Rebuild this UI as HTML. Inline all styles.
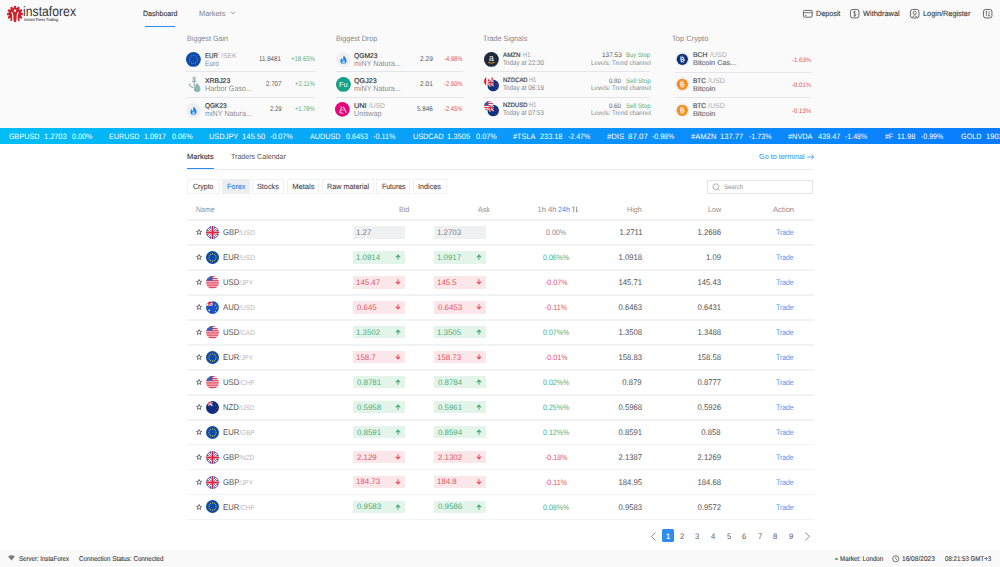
<!DOCTYPE html>
<html><head><meta charset="utf-8"><title>InstaForex Dashboard</title><style>
html,body{margin:0;padding:0;}
body{width:1000px;height:567px;position:relative;overflow:hidden;background:#fff;font-family:"Liberation Sans",sans-serif;}
.t{position:absolute;line-height:12px;white-space:nowrap;text-rendering:geometricPrecision;}
svg{overflow:visible}
</style></head><body>
<div style="position:absolute;left:0px;top:0px;width:1000px;height:128px;background:#fafafa"></div>
<svg style="position:absolute;left:6px;top:4.5px" width="18" height="18" viewBox="-9 -9 18 18">
<g fill="#cc2229"><circle r="6.2"/><rect x="-1.2" y="-7.9" width="2.4" height="3" rx="0.3" transform="rotate(0)"/><rect x="-1.2" y="-7.9" width="2.4" height="3" rx="0.3" transform="rotate(30)"/><rect x="-1.2" y="-7.9" width="2.4" height="3" rx="0.3" transform="rotate(60)"/><rect x="-1.2" y="-7.9" width="2.4" height="3" rx="0.3" transform="rotate(90)"/><rect x="-1.2" y="-7.9" width="2.4" height="3" rx="0.3" transform="rotate(120)"/><rect x="-1.2" y="-7.9" width="2.4" height="3" rx="0.3" transform="rotate(150)"/><rect x="-1.2" y="-7.9" width="2.4" height="3" rx="0.3" transform="rotate(180)"/><rect x="-1.2" y="-7.9" width="2.4" height="3" rx="0.3" transform="rotate(210)"/><rect x="-1.2" y="-7.9" width="2.4" height="3" rx="0.3" transform="rotate(240)"/><rect x="-1.2" y="-7.9" width="2.4" height="3" rx="0.3" transform="rotate(270)"/><rect x="-1.2" y="-7.9" width="2.4" height="3" rx="0.3" transform="rotate(300)"/><rect x="-1.2" y="-7.9" width="2.4" height="3" rx="0.3" transform="rotate(330)"/></g>
<circle cx="0" cy="-3.3" r="1.25" fill="#fafafa"/>
<path d="M-3.6 -1.9 Q-2.2 -0.6 -2.2 1.5 V7.5" stroke="#fafafa" stroke-width="1.15" fill="none"/>
<path d="M3.6 -1.9 Q2.2 -0.6 2.2 1.5 V7.5" stroke="#fafafa" stroke-width="1.15" fill="none"/>
</svg>
<div class="t" style="left:23.01px;transform-origin:0 0;transform:scaleX(0.8864);top:6.00px;font-size:13.8px;color:#333;font-weight:normal;">instaforex</div>
<div class="t" style="left:23.90px;transform-origin:0 0;transform:scaleX(0.7644);top:14.00px;font-size:4.4px;color:#555;font-weight:bold;">Instant Forex Trading</div>
<div class="t" style="left:142.60px;transform-origin:0 0;transform:scaleX(0.9405);top:8.00px;font-size:7.5px;color:#333;font-weight:normal;-webkit-text-stroke:0.12px currentColor;">Dashboard</div>
<div style="position:absolute;left:145px;top:25.6px;width:29.6px;height:1.2px;background:#2d8cf0"></div>
<div class="t" style="left:198.70px;transform-origin:0 0;transform:scaleX(0.9889);top:8.00px;font-size:7.5px;color:#7c7f86;font-weight:normal;">Markets</div>
<svg style="position:absolute;left:229.5px;top:10.5px" width="6" height="4" viewBox="0 0 6 4"><path d="M0.6 0.7 L3 3 L5.4 0.7" stroke="#8a8c92" stroke-width="0.8" fill="none"/></svg>
<svg style="position:absolute;left:802.5px;top:9.5px" width="9.6" height="7.6" viewBox="0 0 9.6 7.6"><rect x="0.45" y="0.45" width="8.7" height="6.7" rx="1" stroke="#555" stroke-width="0.9" fill="none"/><line x1="0.5" y1="2.7" x2="9.1" y2="2.7" stroke="#555" stroke-width="0.8"/><line x1="2" y1="5.4" x2="3.6" y2="5.4" stroke="#555" stroke-width="0.7"/></svg>
<div class="t" style="left:815.50px;transform-origin:0 0;transform:scaleX(0.9462);top:8.00px;font-size:7.6px;color:#3b3b3b;font-weight:normal;-webkit-text-stroke:0.12px currentColor;">Deposit</div>
<svg style="position:absolute;left:849.8px;top:8.8px" width="9.4" height="9.4" viewBox="0 0 9.4 9.4"><rect x="0.45" y="0.45" width="8.5" height="8.5" rx="2.2" stroke="#555" stroke-width="0.9" fill="none"/><path d="M5.9 3.2 Q5.5 2.5 4.7 2.5 Q3.5 2.5 3.5 3.5 Q3.5 4.3 4.7 4.6 Q5.9 4.9 5.9 5.8 Q5.9 6.9 4.7 6.9 Q3.8 6.9 3.4 6.2 M4.7 1.8 V8" stroke="#555" stroke-width="0.7" fill="none"/></svg>
<div class="t" style="left:863.00px;transform-origin:0 0;transform:scaleX(0.9757);top:8.00px;font-size:7.6px;color:#3b3b3b;font-weight:normal;-webkit-text-stroke:0.12px currentColor;">Withdrawal</div>
<svg style="position:absolute;left:909.8px;top:8.8px" width="9.4" height="9.4" viewBox="0 0 9.4 9.4"><rect x="0.45" y="0.45" width="8.5" height="8.5" rx="2.2" stroke="#555" stroke-width="0.9" fill="none"/><circle cx="4.7" cy="3.8" r="1.6" stroke="#555" stroke-width="0.8" fill="none"/><path d="M2 8.6 Q4.7 5 7.4 8.6" stroke="#555" stroke-width="0.8" fill="none"/></svg>
<div class="t" style="left:922.50px;transform-origin:0 0;transform:scaleX(0.9673);top:8.00px;font-size:7.6px;color:#3b3b3b;font-weight:normal;-webkit-text-stroke:0.12px currentColor;">Login/Register</div>
<svg style="position:absolute;left:982.8px;top:8.8px" width="9.4" height="9.4" viewBox="0 0 9.4 9.4"><rect x="0.45" y="0.45" width="8.5" height="8.5" rx="2.2" stroke="#555" stroke-width="0.9" fill="none"/><path d="M3.4 2.2 V7.2 M2.4 3.2 L3.4 2.2 L4.4 3.2 M6 2.2 V7.2 M5 6.2 L6 7.2 L7 6.2" stroke="#555" stroke-width="0.7" fill="none"/></svg>
<div class="t" style="left:187.20px;transform-origin:0 0;transform:scaleX(0.9341);top:33.00px;font-size:7.7px;color:#85878d;font-weight:normal;">Biggest Gain</div>
<div class="t" style="left:335.60px;transform-origin:0 0;transform:scaleX(0.9244);top:33.00px;font-size:7.7px;color:#85878d;font-weight:normal;">Biggest Drop</div>
<div class="t" style="left:483.36px;transform-origin:0 0;transform:scaleX(0.9391);top:33.00px;font-size:7.7px;color:#85878d;font-weight:normal;">Trade Signals</div>
<div class="t" style="left:671.72px;transform-origin:0 0;transform:scaleX(0.9778);top:33.00px;font-size:7.7px;color:#85878d;font-weight:normal;">Top Crypto</div>
<svg style="position:absolute;left:185.2px;top:51.0px" width="16.8" height="16.8" viewBox="-8.4 -8.4 16.8 16.8"><circle r="7.4" fill="#0b4aa8"/><circle cx="4.07" cy="0.00" r="0.48" fill="#e0c43c"/><circle cx="3.52" cy="2.03" r="0.48" fill="#e0c43c"/><circle cx="2.04" cy="3.52" r="0.48" fill="#e0c43c"/><circle cx="0.00" cy="4.07" r="0.48" fill="#e0c43c"/><circle cx="-2.03" cy="3.52" r="0.48" fill="#e0c43c"/><circle cx="-3.52" cy="2.03" r="0.48" fill="#e0c43c"/><circle cx="-4.07" cy="0.00" r="0.48" fill="#e0c43c"/><circle cx="-3.52" cy="-2.03" r="0.48" fill="#e0c43c"/><circle cx="-2.04" cy="-3.52" r="0.48" fill="#e0c43c"/><circle cx="-0.00" cy="-4.07" r="0.48" fill="#e0c43c"/><circle cx="2.04" cy="-3.52" r="0.48" fill="#e0c43c"/><circle cx="3.52" cy="-2.04" r="0.48" fill="#e0c43c"/></svg>
<svg style="position:absolute;left:185.5px;top:76px" width="17" height="17" viewBox="0 0 17 17"><circle cx="8.2" cy="2.3" r="1.2" stroke="#6e8c8a" stroke-width="0.8" fill="none"/><path d="M8.2 3.5 V10.5 M6 5.3 H10.4 M3.4 8.2 Q4.2 11.4 7.4 11.6" stroke="#6e8c8a" stroke-width="0.8" fill="none"/><path d="M3.4 8.2 L2.6 9.2 M3.4 8.2 L4.4 8.8" stroke="#6e8c8a" stroke-width="0.7"/><path d="M11.2 7 C13.2 9.4 14.5 11 14.5 12.9 C14.5 14.8 13 16 11.2 16 C9.3 16 7.9 14.8 7.9 12.9 C7.9 11 9.2 9.4 11.2 7Z" fill="#8db6b0"/></svg>
<svg style="position:absolute;left:185.1px;top:101.6px" width="17.0" height="17.0" viewBox="-8.5 -8.5 17.0 17.0"><circle r="7.5" fill="#efeff1"/><g transform="scale(0.92) translate(0 0.2)"><path d="M0.4 -4.6 C2 -2.4 3.4 -0.9 3.4 1.4 C3.4 3.5 1.8 4.7 0 4.7 C-1.9 4.7 -3.4 3.4 -3.4 1.4 C-3.4 -0.2 -2.5 -1.3 -1.7 -1.9 C-1.7 -0.6 -1.3 0.3 -0.5 0.7 C-0.5 -1.6 -0.3 -3.3 0.4 -4.6 Z" fill="#1a86f0"/><path d="M0.2 0.3 C1.3 1.3 1.8 2.1 1.8 3 C1.8 3.9 1 4.5 0.1 4.5 C-0.9 4.5 -1.6 3.9 -1.6 3 C-1.6 1.9 -0.4 1.5 0.2 0.3Z" fill="#9fd0ff"/></g></svg>
<div class="t" style="left:205.40px;transform-origin:0 0;transform:scaleX(0.8800);top:51.00px;font-size:7.0px;color:#3a3a3c;font-weight:normal;-webkit-text-stroke:0.18px currentColor;">EUR</div>
<div class="t" style="left:220.60px;transform-origin:0 0;transform:scaleX(0.9750);top:51.00px;font-size:7.0px;color:#a8aab0;font-weight:normal;">/SEK</div>
<div class="t" style="left:205.40px;transform-origin:0 0;transform:scaleX(0.8471);top:58.00px;font-size:7.8px;color:#8a8c92;font-weight:normal;">Euro</div>
<div class="t" style="left:259.40px;transform-origin:0 0;transform:scaleX(0.9000);top:54.00px;font-size:6.9px;color:#55575c;font-weight:normal;">11.8481</div>
<div class="t" style="left:291.00px;transform-origin:0 0;transform:scaleX(0.8741);top:54.00px;font-size:6.9px;color:#52b27e;font-weight:normal;">+18.65%</div>
<div class="t" style="left:205.40px;transform-origin:0 0;transform:scaleX(0.9846);top:76.00px;font-size:7.0px;color:#3a3a3c;font-weight:normal;-webkit-text-stroke:0.18px currentColor;">XRBJ23</div>
<div class="t" style="left:205.40px;transform-origin:0 0;transform:scaleX(0.9176);top:83.00px;font-size:7.8px;color:#8a8c92;font-weight:normal;">Harbor Gaso...</div>
<div class="t" style="left:265.80px;transform-origin:0 0;transform:scaleX(0.8941);top:79.00px;font-size:6.9px;color:#55575c;font-weight:normal;">2.707</div>
<div class="t" style="left:294.80px;transform-origin:0 0;transform:scaleX(0.8609);top:79.00px;font-size:6.9px;color:#52b27e;font-weight:normal;">+2.11%</div>
<div class="t" style="left:205.40px;transform-origin:0 0;transform:scaleX(0.9292);top:101.00px;font-size:7.0px;color:#3a3a3c;font-weight:normal;-webkit-text-stroke:0.18px currentColor;">QGK23</div>
<div class="t" style="left:205.40px;transform-origin:0 0;transform:scaleX(0.9196);top:108.00px;font-size:7.8px;color:#8a8c92;font-weight:normal;">miNY Natura...</div>
<div class="t" style="left:269.70px;transform-origin:0 0;transform:scaleX(0.8692);top:104.00px;font-size:6.9px;color:#55575c;font-weight:normal;">2.29</div>
<div class="t" style="left:294.80px;transform-origin:0 0;transform:scaleX(0.8250);top:104.00px;font-size:6.9px;color:#52b27e;font-weight:normal;">+1.78%</div>
<div style="position:absolute;left:186.3px;top:71.2px;width:128.6px;height:0.8px;background:#e4e5e8"></div>
<div style="position:absolute;left:186.3px;top:96.5px;width:128.6px;height:0.8px;background:#e4e5e8"></div>
<svg style="position:absolute;left:334.5px;top:50.9px" width="17.0" height="17.0" viewBox="-8.5 -8.5 17.0 17.0"><circle r="7.5" fill="#efeff1"/><g transform="scale(0.92) translate(0 0.2)"><path d="M0.4 -4.6 C2 -2.4 3.4 -0.9 3.4 1.4 C3.4 3.5 1.8 4.7 0 4.7 C-1.9 4.7 -3.4 3.4 -3.4 1.4 C-3.4 -0.2 -2.5 -1.3 -1.7 -1.9 C-1.7 -0.6 -1.3 0.3 -0.5 0.7 C-0.5 -1.6 -0.3 -3.3 0.4 -4.6 Z" fill="#1a86f0"/><path d="M0.2 0.3 C1.3 1.3 1.8 2.1 1.8 3 C1.8 3.9 1 4.5 0.1 4.5 C-0.9 4.5 -1.6 3.9 -1.6 3 C-1.6 1.9 -0.4 1.5 0.2 0.3Z" fill="#9fd0ff"/></g></svg>
<svg style="position:absolute;left:334.6px;top:76.3px" width="16.8" height="16.8" viewBox="-8.4 -8.4 16.8 16.8"><circle r="7.4" fill="#14a089"/><text x="0" y="2.6" font-size="7.4" font-family="Liberation Sans" text-anchor="middle" fill="#fff">Fu</text></svg>
<svg style="position:absolute;left:334.34999999999997px;top:101.15px" width="16.7" height="16.7" viewBox="-8.35 -8.35 16.7 16.7"><circle r="7.35" fill="#e4037a"/><g fill="none" stroke="#fbd3e8" stroke-linejoin="round" stroke-linecap="round"><path d="M-2.9 -3.9 L-0.8 -1.9" stroke-width="0.6" opacity="0.6"/><path d="M-0.8 -2.1 L-2.7 3.1 L0.6 4.0" stroke-width="1.1" opacity="0.85"/><path d="M1.3 -2.0 L3.7 2.9" stroke-width="1.3" opacity="0.85"/><path d="M-1.2 1.6 L0.4 0.1 L1.0 1.2" stroke-width="0.9" opacity="0.7"/><path d="M-0.8 -2.1 L1.3 -2.0" stroke-width="0.7" opacity="0.6"/></g></svg>
<div class="t" style="left:354.20px;transform-origin:0 0;transform:scaleX(0.9600);top:51.00px;font-size:7.0px;color:#3a3a3c;font-weight:normal;-webkit-text-stroke:0.18px currentColor;">QGM23</div>
<div class="t" style="left:354.20px;transform-origin:0 0;transform:scaleX(0.9176);top:58.00px;font-size:7.8px;color:#8a8c92;font-weight:normal;">miNY Natura...</div>
<div class="t" style="left:420.20px;transform-origin:0 0;transform:scaleX(0.9538);top:54.00px;font-size:6.9px;color:#55575c;font-weight:normal;">2.29</div>
<div class="t" style="left:443.90px;transform-origin:0 0;transform:scaleX(0.8500);top:54.00px;font-size:6.9px;color:#e5535f;font-weight:normal;">-4.98%</div>
<div class="t" style="left:354.20px;transform-origin:0 0;transform:scaleX(1.0227);top:76.00px;font-size:7.0px;color:#3a3a3c;font-weight:normal;-webkit-text-stroke:0.18px currentColor;">QGJ23</div>
<div class="t" style="left:354.20px;transform-origin:0 0;transform:scaleX(0.9176);top:83.00px;font-size:7.8px;color:#8a8c92;font-weight:normal;">miNY Natura...</div>
<div class="t" style="left:420.20px;transform-origin:0 0;transform:scaleX(0.9538);top:79.00px;font-size:6.9px;color:#55575c;font-weight:normal;">2.01</div>
<div class="t" style="left:443.90px;transform-origin:0 0;transform:scaleX(0.8500);top:79.00px;font-size:6.9px;color:#e5535f;font-weight:normal;">-2.90%</div>
<div class="t" style="left:354.20px;transform-origin:0 0;transform:scaleX(1.0500);top:101.00px;font-size:7.0px;color:#3a3a3c;font-weight:normal;-webkit-text-stroke:0.18px currentColor;">UNI</div>
<div class="t" style="left:368.60px;transform-origin:0 0;transform:scaleX(0.9529);top:101.00px;font-size:7.0px;color:#a8aab0;font-weight:normal;">/USD</div>
<div class="t" style="left:354.20px;transform-origin:0 0;transform:scaleX(0.9200);top:108.00px;font-size:7.8px;color:#8a8c92;font-weight:normal;">Uniswap</div>
<div class="t" style="left:417.20px;transform-origin:0 0;transform:scaleX(0.9059);top:104.00px;font-size:6.9px;color:#55575c;font-weight:normal;">5.846</div>
<div class="t" style="left:443.90px;transform-origin:0 0;transform:scaleX(0.8500);top:104.00px;font-size:6.9px;color:#e5535f;font-weight:normal;">-2.45%</div>
<div style="position:absolute;left:335.7px;top:71.2px;width:127px;height:0.8px;background:#e4e5e8"></div>
<div style="position:absolute;left:335.7px;top:96.5px;width:127px;height:0.8px;background:#e4e5e8"></div>
<svg style="position:absolute;left:483.40000000000003px;top:51.0px" width="16.8" height="16.8" viewBox="-8.4 -8.4 16.8 16.8"><circle r="7.4" fill="#1c2a3b"/><text x="0" y="1.9" font-size="8.6" font-family="Liberation Sans" text-anchor="middle" fill="#fff">a</text><path d="M-3.3 2.9 Q0 4.8 3.3 2.9" stroke="#f29a1d" stroke-width="0.9" fill="none"/></svg>
<svg style="position:absolute;left:483.1px;top:76.1px" width="17" height="17" viewBox="-8.5 -8.5 17 17"><clipPath id="nzcaa"><circle cx="-2.6" cy="-3.3" r="4.9"/></clipPath><clipPath id="nzcab"><circle cx="1.7" cy="1.1" r="5.75"/></clipPath><g clip-path="url(#nzcaa)"><g transform="translate(-2.6 -3.3)"><rect x="-6" y="-6" width="12" height="12" fill="#fff"/><rect x="-6" y="-6" width="3.4" height="12" fill="#d8262e"/><rect x="2.6" y="-6" width="3.4" height="12" fill="#d8262e"/><path d="M0 -2.6 L1.4 0.4 L0 1.8 L-1.4 0.4Z" fill="#d8262e"/></g></g><circle cx="1.7" cy="1.1" r="6.2" fill="#fafafa"/><g clip-path="url(#nzcab)"><g transform="translate(1.7 1.1)"><rect x="-7" y="-7" width="14" height="14" fill="#0e3282"/><path d="M-6.5 -6.5 L0.5 0.5 M0.5 -6.5 L-6.5 0.5" stroke="#fff" stroke-width="1.3"/><path d="M-6.5 -6.5 L0.5 0.5 M0.5 -6.5 L-6.5 0.5" stroke="#d21f34" stroke-width="0.5"/><path d="M-3 -7 V0.8 M-7 -3 H0.8" stroke="#fff" stroke-width="2.0"/><path d="M-3 -7 V0.8 M-7 -3 H0.8" stroke="#d21f34" stroke-width="1.1"/><circle cx="3.2" cy="-1.0" r="0.6" fill="#d21f34"/><circle cx="4.3" cy="1.6" r="0.5" fill="#d21f34"/><circle cx="2.5" cy="3.8" r="0.6" fill="#d21f34"/></g></g></svg>
<svg style="position:absolute;left:483.1px;top:101.4px" width="17" height="17" viewBox="-8.5 -8.5 17 17"><clipPath id="nzusa"><circle cx="-2.6" cy="-3.3" r="4.9"/></clipPath><clipPath id="nzusb"><circle cx="1.7" cy="1.1" r="5.75"/></clipPath><g clip-path="url(#nzusa)"><g transform="translate(-2.6 -3.3)"><rect x="-6" y="-6" width="12" height="12" fill="#fff"/><rect x="-6" y="-5.0" width="12" height="1.0" fill="#d8263b"/><rect x="-6" y="-3.1" width="12" height="1.0" fill="#d8263b"/><rect x="-6" y="-1.2" width="12" height="1.0" fill="#d8263b"/><rect x="-6" y="0.7" width="12" height="1.0" fill="#d8263b"/><rect x="-6" y="2.6" width="12" height="1.0" fill="#d8263b"/><rect x="-6" y="4.5" width="12" height="1.0" fill="#d8263b"/><rect x="-6" y="-6" width="5.5" height="5.2" fill="#3a5aa8"/></g></g><circle cx="1.7" cy="1.1" r="6.2" fill="#fafafa"/><g clip-path="url(#nzusb)"><g transform="translate(1.7 1.1)"><rect x="-7" y="-7" width="14" height="14" fill="#0e3282"/><path d="M-6.5 -6.5 L0.5 0.5 M0.5 -6.5 L-6.5 0.5" stroke="#fff" stroke-width="1.3"/><path d="M-6.5 -6.5 L0.5 0.5 M0.5 -6.5 L-6.5 0.5" stroke="#d21f34" stroke-width="0.5"/><path d="M-3 -7 V0.8 M-7 -3 H0.8" stroke="#fff" stroke-width="2.0"/><path d="M-3 -7 V0.8 M-7 -3 H0.8" stroke="#d21f34" stroke-width="1.1"/><circle cx="3.2" cy="-1.0" r="0.6" fill="#d21f34"/><circle cx="4.3" cy="1.6" r="0.5" fill="#d21f34"/><circle cx="2.5" cy="3.8" r="0.6" fill="#d21f34"/></g></g></svg>
<div class="t" style="left:503.10px;transform-origin:0 0;transform:scaleX(0.9833);top:50.00px;font-size:6.3px;color:#3a3a3c;font-weight:normal;-webkit-text-stroke:0.18px currentColor;">AMZN</div>
<div class="t" style="left:522.60px;transform-origin:0 0;transform:scaleX(0.8444);top:50.00px;font-size:6.8px;color:#9a9ca2;font-weight:normal;">H1</div>
<div class="t" style="left:503.10px;transform-origin:0 0;transform:scaleX(0.9044);top:58.00px;font-size:6.9px;color:#85878c;font-weight:normal;">Today at 22:30</div>
<div class="t" style="left:601.50px;transform-origin:0 0;transform:scaleX(0.9800);top:50.00px;font-size:6.6px;color:#55575c;font-weight:normal;">137.53</div>
<div class="t" style="left:626.00px;transform-origin:0 0;transform:scaleX(0.9000);top:50.00px;font-size:6.6px;color:#52b27e;font-weight:normal;">Buy Stop</div>
<div class="t" style="left:590.80px;transform-origin:0 0;transform:scaleX(0.9154);top:58.00px;font-size:6.7px;color:#85878c;font-weight:normal;">Levels: Trend channel</div>
<div class="t" style="left:503.10px;transform-origin:0 0;transform:scaleX(0.9385);top:75.00px;font-size:6.3px;color:#3a3a3c;font-weight:normal;-webkit-text-stroke:0.18px currentColor;">NZDCAD</div>
<div class="t" style="left:529.10px;transform-origin:0 0;transform:scaleX(0.8333);top:75.00px;font-size:6.8px;color:#9a9ca2;font-weight:normal;">H1</div>
<div class="t" style="left:503.10px;transform-origin:0 0;transform:scaleX(0.9044);top:83.00px;font-size:6.9px;color:#85878c;font-weight:normal;">Today at 06:19</div>
<div class="t" style="left:609.00px;transform-origin:0 0;transform:scaleX(0.9308);top:76.00px;font-size:6.6px;color:#55575c;font-weight:normal;">0.80</div>
<div class="t" style="left:626.00px;transform-origin:0 0;transform:scaleX(0.9346);top:76.00px;font-size:6.6px;color:#52b27e;font-weight:normal;">Sell Stop</div>
<div class="t" style="left:590.80px;transform-origin:0 0;transform:scaleX(0.9154);top:83.00px;font-size:6.7px;color:#85878c;font-weight:normal;">Levels: Trend channel</div>
<div class="t" style="left:503.10px;transform-origin:0 0;transform:scaleX(0.9308);top:100.00px;font-size:6.3px;color:#3a3a3c;font-weight:normal;-webkit-text-stroke:0.18px currentColor;">NZDUSD</div>
<div class="t" style="left:529.10px;transform-origin:0 0;transform:scaleX(0.8333);top:100.00px;font-size:6.8px;color:#9a9ca2;font-weight:normal;">H1</div>
<div class="t" style="left:503.10px;transform-origin:0 0;transform:scaleX(0.9044);top:108.00px;font-size:6.9px;color:#85878c;font-weight:normal;">Today at 07:53</div>
<div class="t" style="left:609.00px;transform-origin:0 0;transform:scaleX(0.9308);top:101.00px;font-size:6.6px;color:#55575c;font-weight:normal;">0.60</div>
<div class="t" style="left:626.00px;transform-origin:0 0;transform:scaleX(0.9346);top:101.00px;font-size:6.6px;color:#52b27e;font-weight:normal;">Sell Stop</div>
<div class="t" style="left:590.80px;transform-origin:0 0;transform:scaleX(0.9154);top:108.00px;font-size:6.7px;color:#85878c;font-weight:normal;">Levels: Trend channel</div>
<div style="position:absolute;left:484.3px;top:71.2px;width:166px;height:0.8px;background:#e4e5e8"></div>
<div style="position:absolute;left:484.3px;top:96.5px;width:166px;height:0.8px;background:#e4e5e8"></div>
<svg style="position:absolute;left:673.6px;top:50.599999999999994px" width="16.6" height="16.6" viewBox="-8.3 -8.3 16.6 16.6"><circle r="7.3" fill="#eceef2"/><circle r="5.6" fill="#0b2f78"/><text x="0.1" y="2.3" font-size="6.4" font-family="Liberation Sans" font-weight="bold" text-anchor="middle" fill="#fff" transform="rotate(-10)">B</text><path d="M-0.9 -3.6 V-2.4 M0.9 -3.6 V-2.4 M-0.9 2.4 V3.6 M0.9 2.4 V3.6" stroke="#fff" stroke-width="0.6" transform="rotate(-10)"/></svg>
<div class="t" style="left:693.10px;transform-origin:0 0;transform:scaleX(0.9929);top:50.00px;font-size:6.9px;color:#48494d;font-weight:normal;-webkit-text-stroke:0.18px currentColor;">BCH</div>
<div class="t" style="left:709.80px;transform-origin:0 0;transform:scaleX(1.0188);top:50.00px;font-size:6.9px;color:#a8aab0;font-weight:normal;">/USD</div>
<div class="t" style="left:693.10px;transform-origin:0 0;transform:scaleX(1.0700);top:58.00px;font-size:6.9px;color:#76787e;font-weight:normal;-webkit-text-stroke:0.18px currentColor;">Bitcoin Cas...</div>
<div class="t" style="left:792.00px;transform-origin:0 0;transform:scaleX(0.9500);top:55.00px;font-size:6.4px;color:#e5535f;font-weight:normal;">-1.69%</div>
<svg style="position:absolute;left:673.6px;top:76.2px" width="16.6" height="16.6" viewBox="-8.3 -8.3 16.6 16.6"><circle r="7.3" fill="#eceef2"/><circle r="5.6" fill="#f5901e"/><text x="0.1" y="2.3" font-size="6.4" font-family="Liberation Sans" font-weight="bold" text-anchor="middle" fill="#fff" transform="rotate(-10)">B</text><path d="M-0.9 -3.6 V-2.4 M0.9 -3.6 V-2.4 M-0.9 2.4 V3.6 M0.9 2.4 V3.6" stroke="#fff" stroke-width="0.6" transform="rotate(-10)"/></svg>
<div class="t" style="left:693.10px;transform-origin:0 0;transform:scaleX(0.9429);top:76.00px;font-size:6.9px;color:#48494d;font-weight:normal;-webkit-text-stroke:0.18px currentColor;">BTC</div>
<div class="t" style="left:708.30px;transform-origin:0 0;transform:scaleX(1.0312);top:76.00px;font-size:6.9px;color:#a8aab0;font-weight:normal;">/USD</div>
<div class="t" style="left:693.10px;transform-origin:0 0;transform:scaleX(1.0857);top:84.00px;font-size:6.9px;color:#76787e;font-weight:normal;-webkit-text-stroke:0.18px currentColor;">Bitcoin</div>
<div class="t" style="left:792.00px;transform-origin:0 0;transform:scaleX(0.9500);top:80.00px;font-size:6.4px;color:#e5535f;font-weight:normal;">-0.01%</div>
<svg style="position:absolute;left:673.6px;top:101.8px" width="16.6" height="16.6" viewBox="-8.3 -8.3 16.6 16.6"><circle r="7.3" fill="#eceef2"/><circle r="5.6" fill="#f5901e"/><text x="0.1" y="2.3" font-size="6.4" font-family="Liberation Sans" font-weight="bold" text-anchor="middle" fill="#fff" transform="rotate(-10)">B</text><path d="M-0.9 -3.6 V-2.4 M0.9 -3.6 V-2.4 M-0.9 2.4 V3.6 M0.9 2.4 V3.6" stroke="#fff" stroke-width="0.6" transform="rotate(-10)"/></svg>
<div class="t" style="left:693.10px;transform-origin:0 0;transform:scaleX(0.9429);top:101.00px;font-size:6.9px;color:#48494d;font-weight:normal;-webkit-text-stroke:0.18px currentColor;">BTC</div>
<div class="t" style="left:708.30px;transform-origin:0 0;transform:scaleX(1.0312);top:101.00px;font-size:6.9px;color:#a8aab0;font-weight:normal;">/USD</div>
<div class="t" style="left:693.10px;transform-origin:0 0;transform:scaleX(1.0857);top:109.00px;font-size:6.9px;color:#76787e;font-weight:normal;-webkit-text-stroke:0.18px currentColor;">Bitcoin</div>
<div class="t" style="left:792.00px;transform-origin:0 0;transform:scaleX(0.9500);top:106.00px;font-size:6.4px;color:#e5535f;font-weight:normal;">-0.13%</div>
<div style="position:absolute;left:675px;top:72.1px;width:136px;height:0.8px;background:#e4e5e8"></div>
<div style="position:absolute;left:675px;top:97.0px;width:136px;height:0.8px;background:#e4e5e8"></div>
<div style="position:absolute;left:0px;top:128px;width:1000px;height:15.6px;background:linear-gradient(90deg,#00bef5 0%,#07a9f7 30%,#0b92fa 60%,#0a7cfd 100%)"></div>
<div class="t" style="left:8.75px;transform-origin:0 0;transform:scaleX(0.9242);top:131.00px;font-size:7.8px;color:#fff;font-weight:normal;">GBPUSD</div>
<div class="t" style="left:43.55px;transform-origin:0 0;transform:scaleX(0.9457);top:131.00px;font-size:7.8px;color:#fff;font-weight:normal;">1.2703</div>
<div class="t" style="left:71.75px;transform-origin:0 0;transform:scaleX(0.9205);top:131.00px;font-size:7.8px;color:#fff;font-weight:normal;">0.00%</div>
<div class="t" style="left:108.75px;transform-origin:0 0;transform:scaleX(0.9242);top:131.00px;font-size:7.8px;color:#fff;font-weight:normal;">EURUSD</div>
<div class="t" style="left:144.08px;transform-origin:0 0;transform:scaleX(0.9239);top:131.00px;font-size:7.8px;color:#fff;font-weight:normal;">1.0917</div>
<div class="t" style="left:172.00px;transform-origin:0 0;transform:scaleX(0.9318);top:131.00px;font-size:7.8px;color:#fff;font-weight:normal;">0.06%</div>
<div class="t" style="left:209.25px;transform-origin:0 0;transform:scaleX(0.9517);top:131.00px;font-size:7.8px;color:#fff;font-weight:normal;">USDJPY</div>
<div class="t" style="left:241.73px;transform-origin:0 0;transform:scaleX(0.9696);top:131.00px;font-size:7.8px;color:#fff;font-weight:normal;">145.50</div>
<div class="t" style="left:270.00px;transform-origin:0 0;transform:scaleX(0.9200);top:131.00px;font-size:7.8px;color:#fff;font-weight:normal;">-0.07%</div>
<div class="t" style="left:310.00px;transform-origin:0 0;transform:scaleX(0.9242);top:131.00px;font-size:7.8px;color:#fff;font-weight:normal;">AUDUSD</div>
<div class="t" style="left:345.75px;transform-origin:0 0;transform:scaleX(0.9271);top:131.00px;font-size:7.8px;color:#fff;font-weight:normal;">0.6453</div>
<div class="t" style="left:373.25px;transform-origin:0 0;transform:scaleX(0.9271);top:131.00px;font-size:7.8px;color:#fff;font-weight:normal;">-0.11%</div>
<div class="t" style="left:412.50px;transform-origin:0 0;transform:scaleX(0.9318);top:131.00px;font-size:7.8px;color:#fff;font-weight:normal;">USDCAD</div>
<div class="t" style="left:447.28px;transform-origin:0 0;transform:scaleX(0.9674);top:131.00px;font-size:7.8px;color:#fff;font-weight:normal;">1.3505</div>
<div class="t" style="left:475.50px;transform-origin:0 0;transform:scaleX(0.9432);top:131.00px;font-size:7.8px;color:#fff;font-weight:normal;">0.07%</div>
<div class="t" style="left:512.50px;transform-origin:0 0;transform:scaleX(0.9375);top:131.00px;font-size:7.8px;color:#fff;font-weight:normal;">#TSLA</div>
<div class="t" style="left:540.00px;transform-origin:0 0;transform:scaleX(0.9375);top:131.00px;font-size:7.8px;color:#fff;font-weight:normal;">233.18</div>
<div class="t" style="left:567.50px;transform-origin:0 0;transform:scaleX(0.9000);top:131.00px;font-size:7.8px;color:#fff;font-weight:normal;">-2.47%</div>
<div class="t" style="left:607.00px;transform-origin:0 0;transform:scaleX(0.9853);top:131.00px;font-size:7.8px;color:#fff;font-weight:normal;">#DIS</div>
<div class="t" style="left:628.25px;transform-origin:0 0;transform:scaleX(1.0132);top:131.00px;font-size:7.8px;color:#fff;font-weight:normal;">87.07</div>
<div class="t" style="left:651.75px;transform-origin:0 0;transform:scaleX(0.9000);top:131.00px;font-size:7.8px;color:#fff;font-weight:normal;">-0.98%</div>
<div class="t" style="left:691.25px;transform-origin:0 0;transform:scaleX(0.9615);top:131.00px;font-size:7.8px;color:#fff;font-weight:normal;">#AMZN</div>
<div class="t" style="left:720.28px;transform-origin:0 0;transform:scaleX(0.9674);top:131.00px;font-size:7.8px;color:#fff;font-weight:normal;">137.77</div>
<div class="t" style="left:748.50px;transform-origin:0 0;transform:scaleX(0.9100);top:131.00px;font-size:7.8px;color:#fff;font-weight:normal;">-1.73%</div>
<div class="t" style="left:788.00px;transform-origin:0 0;transform:scaleX(0.9423);top:131.00px;font-size:7.8px;color:#fff;font-weight:normal;">#NVDA</div>
<div class="t" style="left:817.50px;transform-origin:0 0;transform:scaleX(0.9375);top:131.00px;font-size:7.8px;color:#fff;font-weight:normal;">439.47</div>
<div class="t" style="left:845.00px;transform-origin:0 0;transform:scaleX(0.9000);top:131.00px;font-size:7.8px;color:#fff;font-weight:normal;">-1.48%</div>
<div class="t" style="left:884.50px;transform-origin:0 0;transform:scaleX(0.8889);top:131.00px;font-size:7.8px;color:#fff;font-weight:normal;">#F</div>
<div class="t" style="left:897.28px;transform-origin:0 0;transform:scaleX(0.9722);top:131.00px;font-size:7.8px;color:#fff;font-weight:normal;">11.98</div>
<div class="t" style="left:921.25px;transform-origin:0 0;transform:scaleX(0.9000);top:131.00px;font-size:7.8px;color:#fff;font-weight:normal;">-0.99%</div>
<div class="t" style="left:960.75px;transform-origin:0 0;transform:scaleX(0.9318);top:131.00px;font-size:7.8px;color:#fff;font-weight:normal;">GOLD</div>
<div class="t" style="left:986.03px;transform-origin:0 0;transform:scaleX(0.9722);top:131.00px;font-size:7.8px;color:#fff;font-weight:normal;">1903.60</div>
<div class="t" style="left:187.40px;transform-origin:0 0;transform:scaleX(1.0154);top:151.00px;font-size:7.4px;color:#333;font-weight:normal;-webkit-text-stroke:0.12px currentColor;">Markets</div>
<div class="t" style="left:231.00px;transform-origin:0 0;transform:scaleX(0.9579);top:151.00px;font-size:7.4px;color:#555;font-weight:normal;">Traders Calendar</div>
<div style="position:absolute;left:187.4px;top:169.2px;width:627px;height:0.9px;background:#eaecef"></div>
<div style="position:absolute;left:187.4px;top:168.1px;width:26.6px;height:1.4px;background:#2d8cf0"></div>
<div class="t" style="left:758.80px;transform-origin:0 0;transform:scaleX(0.9826);top:151.00px;font-size:7.4px;color:#2d8cf0;font-weight:normal;">Go to terminal</div>
<svg style="position:absolute;left:807.2px;top:153.8px" width="8" height="6" viewBox="0 0 8 6"><path d="M0.3 3 H6.8 M4.4 0.7 L6.8 3 L4.4 5.3" stroke="#2d8cf0" stroke-width="0.8" fill="none"/></svg>
<div style="position:absolute;left:187.4px;top:179.2px;width:32.400000000000006px;height:15px;background:#fff;border:0.8px solid #f0f1f3;box-sizing:border-box"></div>
<div class="t" style="left:193.20px;transform-origin:0 0;transform:scaleX(0.9130);top:181.00px;font-size:7.6px;color:#4c4d52;font-weight:normal;-webkit-text-stroke:0.12px currentColor;">Crypto</div>
<div style="position:absolute;left:221.8px;top:179.2px;width:28.19999999999999px;height:15px;background:#eceef2"></div>
<div class="t" style="left:226.80px;transform-origin:0 0;transform:scaleX(0.9474);top:181.00px;font-size:7.6px;color:#2f86ea;font-weight:normal;-webkit-text-stroke:0.12px currentColor;">Forex</div>
<div style="position:absolute;left:252px;top:179.2px;width:32.19999999999999px;height:15px;background:#fff;border:0.8px solid #f0f1f3;box-sizing:border-box"></div>
<div class="t" style="left:257.40px;transform-origin:0 0;transform:scaleX(0.9565);top:181.00px;font-size:7.6px;color:#4c4d52;font-weight:normal;-webkit-text-stroke:0.12px currentColor;">Stocks</div>
<div style="position:absolute;left:286.7px;top:179.2px;width:32.5px;height:15px;background:#fff;border:0.8px solid #f0f1f3;box-sizing:border-box"></div>
<div class="t" style="left:292.20px;transform-origin:0 0;transform:scaleX(1.0000);top:181.00px;font-size:7.6px;color:#4c4d52;font-weight:normal;-webkit-text-stroke:0.12px currentColor;">Metals</div>
<div style="position:absolute;left:321.8px;top:179.2px;width:52.19999999999999px;height:15px;background:#fff;border:0.8px solid #f0f1f3;box-sizing:border-box"></div>
<div class="t" style="left:326.80px;transform-origin:0 0;transform:scaleX(0.9523);top:181.00px;font-size:7.6px;color:#4c4d52;font-weight:normal;-webkit-text-stroke:0.12px currentColor;">Raw material</div>
<div style="position:absolute;left:376.3px;top:179.2px;width:34.19999999999999px;height:15px;background:#fff;border:0.8px solid #f0f1f3;box-sizing:border-box"></div>
<div class="t" style="left:381.70px;transform-origin:0 0;transform:scaleX(0.9154);top:181.00px;font-size:7.6px;color:#4c4d52;font-weight:normal;-webkit-text-stroke:0.12px currentColor;">Futures</div>
<div style="position:absolute;left:413.2px;top:179.2px;width:33.80000000000001px;height:15px;background:#fff;border:0.8px solid #f0f1f3;box-sizing:border-box"></div>
<div class="t" style="left:418.20px;transform-origin:0 0;transform:scaleX(0.9500);top:181.00px;font-size:7.6px;color:#4c4d52;font-weight:normal;-webkit-text-stroke:0.12px currentColor;">Indices</div>
<div style="position:absolute;left:707.2px;top:179.5px;width:105.7px;height:14.9px;background:#fff;border:0.8px solid #e3e4e7;box-sizing:border-box"></div>
<svg style="position:absolute;left:712.4px;top:183.4px" width="8.5" height="8.5" viewBox="0 0 8.5 8.5"><circle cx="3.8" cy="3.8" r="3" stroke="#9c9ea3" stroke-width="0.75" fill="none"/><line x1="6" y1="6" x2="7.6" y2="7.6" stroke="#9c9ea3" stroke-width="0.8"/></svg>
<div class="t" style="left:724.00px;transform-origin:0 0;transform:scaleX(0.9143);top:182.00px;font-size:6.6px;color:#8d8f95;font-weight:normal;">Search</div>
<div class="t" style="left:196.00px;transform-origin:0 0;transform:scaleX(0.9048);top:204.00px;font-size:7.7px;color:#8c8e94;font-weight:normal;">Name</div>
<div class="t" style="left:398.90px;transform-origin:0 0;transform:scaleX(0.9273);top:204.00px;font-size:7.7px;color:#8c8e94;font-weight:normal;">Bid</div>
<div class="t" style="left:477.90px;transform-origin:0 0;transform:scaleX(0.9308);top:204.00px;font-size:7.7px;color:#8c8e94;font-weight:normal;">Ask</div>
<div class="t" style="left:537.40px;transform-origin:0 0;transform:scaleX(1.0000);top:204.00px;font-size:7.7px;color:#8c8e94;font-weight:normal;">1h 4h</div>
<div class="t" style="left:558.00px;transform-origin:0 0;transform:scaleX(0.9231);top:204.00px;font-size:7.7px;color:#2d8cf0;font-weight:normal;">24h</div>
<svg style="position:absolute;left:571.6px;top:206.2px" width="6.5" height="7" viewBox="0 0 6.5 7"><path d="M1.7 6.2 V0.7 L0.3 2.1 M4.6 0.6 V6.1 L6 4.7" stroke="#7d7f85" stroke-width="0.8" fill="none"/></svg>
<div class="t" style="left:626.90px;transform-origin:0 0;transform:scaleX(0.9375);top:204.00px;font-size:7.7px;color:#8c8e94;font-weight:normal;">High</div>
<div class="t" style="left:707.70px;transform-origin:0 0;transform:scaleX(0.9357);top:204.00px;font-size:7.7px;color:#8c8e94;font-weight:normal;">Low</div>
<div class="t" style="left:773.30px;transform-origin:0 0;transform:scaleX(0.9857);top:204.00px;font-size:7.7px;color:#8c8e94;font-weight:normal;">Action</div>
<div style="position:absolute;left:187.4px;top:219.2px;width:627px;height:1.7px;background:#f2f3f5"></div>
<svg style="position:absolute;left:195.8px;top:229.40px" width="6.2" height="6.2" viewBox="0 0 6.2 6.2"><path d="M3.1 0.5 L3.85 2.25 L5.7 2.4 L4.3 3.6 L4.75 5.45 L3.1 4.45 L1.45 5.45 L1.9 3.6 L0.5 2.4 L2.35 2.25 Z" stroke="#45464a" stroke-width="0.75" fill="none" stroke-linejoin="round"/></svg>
<svg style="position:absolute;left:206.0px;top:226.0px" width="13.0" height="13.0" viewBox="-6.5 -6.5 13.0 13.0"><clipPath id="fl0"><circle r="6.5"/></clipPath><g clip-path="url(#fl0)"><rect x="-8" y="-8" width="16" height="16" fill="#2a5cc0"/><path d="M-8 -8 L8 8 M8 -8 L-8 8" stroke="#fff" stroke-width="2.4"/><path d="M-8 -8 L8 8 M8 -8 L-8 8" stroke="#d51f3a" stroke-width="0.8"/><path d="M0 -8 V8 M-8 0 H8" stroke="#fff" stroke-width="3.2"/><path d="M0 -8 V8 M-8 0 H8" stroke="#e0203c" stroke-width="1.9"/></g></svg>
<div class="t" style="left:223.00px;transform-origin:0 0;transform:scaleX(0.9200);top:226.00px;font-size:8.4px;color:#505155;font-weight:normal;">GBP<span style="font-size:7.1px;color:#b5b7bc">/USD</span></div>
<div style="position:absolute;left:352.9px;top:226.1px;width:51.8px;height:12.6px;background:#eff0f2"></div>
<div class="t" style="left:355.71px;transform-origin:0 0;transform:scaleX(0.9857);top:227.00px;font-size:8.0px;color:#7d7f85;font-weight:normal;">1.27</div>
<div style="position:absolute;left:433.9px;top:226.1px;width:51.8px;height:12.6px;background:#eff0f2"></div>
<div class="t" style="left:436.71px;transform-origin:0 0;transform:scaleX(0.9857);top:227.00px;font-size:8.0px;color:#7d7f85;font-weight:normal;">1.2703</div>
<div class="t" style="left:546.00px;transform-origin:0 0;transform:scaleX(0.9091);top:227.00px;font-size:7.8px;color:#8a8c92;font-weight:normal;">0.00%</div>
<div class="t" style="right:357.59px;transform-origin:100% 0;transform:scaleX(0.9391);top:227.00px;font-size:8.2px;color:#505257;font-weight:normal;">1.2711</div>
<div class="t" style="right:278.56px;transform-origin:100% 0;transform:scaleX(0.9391);top:227.00px;font-size:8.2px;color:#505257;font-weight:normal;">1.2686</div>
<div class="t" style="left:776.00px;transform-origin:0 0;transform:scaleX(0.8571);top:227.00px;font-size:8.0px;color:#4896f2;font-weight:normal;">Trade</div>
<div style="position:absolute;left:187.4px;top:244.2px;width:627px;height:1.7px;background:#f2f3f5"></div>
<svg style="position:absolute;left:195.8px;top:254.35px" width="6.2" height="6.2" viewBox="0 0 6.2 6.2"><path d="M3.1 0.5 L3.85 2.25 L5.7 2.4 L4.3 3.6 L4.75 5.45 L3.1 4.45 L1.45 5.45 L1.9 3.6 L0.5 2.4 L2.35 2.25 Z" stroke="#45464a" stroke-width="0.75" fill="none" stroke-linejoin="round"/></svg>
<svg style="position:absolute;left:206.0px;top:250.95px" width="13.0" height="13.0" viewBox="-6.5 -6.5 13.0 13.0"><clipPath id="fl1"><circle r="6.5"/></clipPath><g clip-path="url(#fl1)"><rect x="-8" y="-8" width="16" height="16" fill="#0b4aa8"/><circle cx="3.64" cy="0.00" r="0.55" fill="#e0c43c"/><circle cx="3.15" cy="1.82" r="0.55" fill="#e0c43c"/><circle cx="1.82" cy="3.15" r="0.55" fill="#e0c43c"/><circle cx="0.00" cy="3.64" r="0.55" fill="#e0c43c"/><circle cx="-1.82" cy="3.15" r="0.55" fill="#e0c43c"/><circle cx="-3.15" cy="1.82" r="0.55" fill="#e0c43c"/><circle cx="-3.64" cy="0.00" r="0.55" fill="#e0c43c"/><circle cx="-3.15" cy="-1.82" r="0.55" fill="#e0c43c"/><circle cx="-1.82" cy="-3.15" r="0.55" fill="#e0c43c"/><circle cx="-0.00" cy="-3.64" r="0.55" fill="#e0c43c"/><circle cx="1.82" cy="-3.15" r="0.55" fill="#e0c43c"/><circle cx="3.15" cy="-1.82" r="0.55" fill="#e0c43c"/></g></svg>
<div class="t" style="left:223.00px;transform-origin:0 0;transform:scaleX(0.9200);top:251.00px;font-size:8.4px;color:#505155;font-weight:normal;">EUR<span style="font-size:7.1px;color:#b5b7bc">/USD</span></div>
<div style="position:absolute;left:352.9px;top:251.04999999999998px;width:51.8px;height:12.6px;background:#e3f4ea"></div>
<div class="t" style="left:355.71px;transform-origin:0 0;transform:scaleX(0.9857);top:252.00px;font-size:8.0px;color:#4fae78;font-weight:normal;">1.0914</div>
<svg style="position:absolute;left:395.00px;top:254.45px" width="6" height="6" viewBox="0 0 6 6"><path d="M3 5.7 V1.2 M0.8 3.3 L3 1.1 L5.2 3.3" stroke="#4fae78" stroke-width="1.05" fill="none"/></svg>
<div style="position:absolute;left:433.9px;top:251.04999999999998px;width:51.8px;height:12.6px;background:#e3f4ea"></div>
<div class="t" style="left:436.71px;transform-origin:0 0;transform:scaleX(0.9857);top:252.00px;font-size:8.0px;color:#4fae78;font-weight:normal;">1.0917</div>
<svg style="position:absolute;left:476.00px;top:254.45px" width="6" height="6" viewBox="0 0 6 6"><path d="M3 5.7 V1.2 M0.8 3.3 L3 1.1 L5.2 3.3" stroke="#4fae78" stroke-width="1.05" fill="none"/></svg>
<div class="t" style="left:542.82px;transform-origin:0 0;transform:scaleX(0.9091);top:252.00px;font-size:7.8px;color:#4fae78;font-weight:normal;">0.06%%</div>
<div class="t" style="right:357.96px;transform-origin:100% 0;transform:scaleX(0.9391);top:252.00px;font-size:8.2px;color:#505257;font-weight:normal;">1.0918</div>
<div class="t" style="right:278.66px;transform-origin:100% 0;transform:scaleX(0.9391);top:252.00px;font-size:8.2px;color:#505257;font-weight:normal;">1.09</div>
<div class="t" style="left:776.00px;transform-origin:0 0;transform:scaleX(0.8571);top:252.00px;font-size:8.0px;color:#4896f2;font-weight:normal;">Trade</div>
<div style="position:absolute;left:187.4px;top:269.15px;width:627px;height:1.7px;background:#f2f3f5"></div>
<svg style="position:absolute;left:195.8px;top:279.30px" width="6.2" height="6.2" viewBox="0 0 6.2 6.2"><path d="M3.1 0.5 L3.85 2.25 L5.7 2.4 L4.3 3.6 L4.75 5.45 L3.1 4.45 L1.45 5.45 L1.9 3.6 L0.5 2.4 L2.35 2.25 Z" stroke="#45464a" stroke-width="0.75" fill="none" stroke-linejoin="round"/></svg>
<svg style="position:absolute;left:206.0px;top:275.9px" width="13.0" height="13.0" viewBox="-6.5 -6.5 13.0 13.0"><clipPath id="fl2"><circle r="6.5"/></clipPath><g clip-path="url(#fl2)"><rect x="-8" y="-8" width="16" height="16" fill="#fff"/><rect x="-8" y="-6.60" width="16" height="1.2" fill="#dc2540"/><rect x="-8" y="-4.45" width="16" height="1.2" fill="#dc2540"/><rect x="-8" y="-2.30" width="16" height="1.2" fill="#dc2540"/><rect x="-8" y="-0.15" width="16" height="1.2" fill="#dc2540"/><rect x="-8" y="2.00" width="16" height="1.2" fill="#dc2540"/><rect x="-8" y="4.15" width="16" height="1.2" fill="#dc2540"/><rect x="-8" y="6.30" width="16" height="1.2" fill="#dc2540"/><rect x="-8" y="-8" width="8" height="6.2" fill="#3c5fb4"/></g></svg>
<div class="t" style="left:223.00px;transform-origin:0 0;transform:scaleX(0.9200);top:276.00px;font-size:8.4px;color:#505155;font-weight:normal;">USD<span style="font-size:7.1px;color:#b5b7bc">/JPY</span></div>
<div style="position:absolute;left:352.9px;top:276.0px;width:51.8px;height:12.6px;background:#fbe7e9"></div>
<div class="t" style="left:355.71px;transform-origin:0 0;transform:scaleX(0.9857);top:277.00px;font-size:8.0px;color:#e5535f;font-weight:normal;">145.47</div>
<svg style="position:absolute;left:395.00px;top:279.40px" width="6" height="6" viewBox="0 0 6 6"><path d="M3 0.3 V4.8 M0.8 2.7 L3 4.9 L5.2 2.7" stroke="#e5535f" stroke-width="1.05" fill="none"/></svg>
<div style="position:absolute;left:433.9px;top:276.0px;width:51.8px;height:12.6px;background:#fbe7e9"></div>
<div class="t" style="left:436.71px;transform-origin:0 0;transform:scaleX(0.9857);top:277.00px;font-size:8.0px;color:#e5535f;font-weight:normal;">145.5</div>
<svg style="position:absolute;left:476.00px;top:279.40px" width="6" height="6" viewBox="0 0 6 6"><path d="M3 0.3 V4.8 M0.8 2.7 L3 4.9 L5.2 2.7" stroke="#e5535f" stroke-width="1.05" fill="none"/></svg>
<div class="t" style="left:544.64px;transform-origin:0 0;transform:scaleX(0.9091);top:277.00px;font-size:7.8px;color:#e5535f;font-weight:normal;">-0.07%</div>
<div class="t" style="right:357.96px;transform-origin:100% 0;transform:scaleX(0.9391);top:277.00px;font-size:8.2px;color:#505257;font-weight:normal;">145.71</div>
<div class="t" style="right:278.56px;transform-origin:100% 0;transform:scaleX(0.9391);top:277.00px;font-size:8.2px;color:#505257;font-weight:normal;">145.43</div>
<div class="t" style="left:776.00px;transform-origin:0 0;transform:scaleX(0.8571);top:277.00px;font-size:8.0px;color:#4896f2;font-weight:normal;">Trade</div>
<div style="position:absolute;left:187.4px;top:294.09999999999997px;width:627px;height:1.7px;background:#f2f3f5"></div>
<svg style="position:absolute;left:195.8px;top:304.25px" width="6.2" height="6.2" viewBox="0 0 6.2 6.2"><path d="M3.1 0.5 L3.85 2.25 L5.7 2.4 L4.3 3.6 L4.75 5.45 L3.1 4.45 L1.45 5.45 L1.9 3.6 L0.5 2.4 L2.35 2.25 Z" stroke="#45464a" stroke-width="0.75" fill="none" stroke-linejoin="round"/></svg>
<svg style="position:absolute;left:206.0px;top:300.85px" width="13.0" height="13.0" viewBox="-6.5 -6.5 13.0 13.0"><clipPath id="fl3"><circle r="6.5"/></clipPath><g clip-path="url(#fl3)"><rect x="-8" y="-8" width="16" height="16" fill="#1f54c0"/><rect x="-8" y="-8" width="8" height="6.2" fill="#fff"/><path d="M-8 -8 L0 -1.8 M0 -8 L-8 -1.8" stroke="#d8203a" stroke-width="0.9"/><path d="M-3.6 -8 V-1.8 M-8 -4.8 H0" stroke="#d8203a" stroke-width="1.2"/><circle cx="-3.3" cy="2.8" r="0.85" fill="#fff"/><circle cx="2.8" cy="-2.6" r="0.5" fill="#fff"/><circle cx="4.3" cy="0.4" r="0.5" fill="#fff"/><circle cx="2.8" cy="3.8" r="0.5" fill="#fff"/></g></svg>
<div class="t" style="left:223.00px;transform-origin:0 0;transform:scaleX(0.9200);top:301.00px;font-size:8.4px;color:#505155;font-weight:normal;">AUD<span style="font-size:7.1px;color:#b5b7bc">/USD</span></div>
<div style="position:absolute;left:352.9px;top:300.95000000000005px;width:51.8px;height:12.6px;background:#fbe7e9"></div>
<div class="t" style="left:356.70px;transform-origin:0 0;transform:scaleX(0.9857);top:302.00px;font-size:8.0px;color:#e5535f;font-weight:normal;">0.645</div>
<svg style="position:absolute;left:395.00px;top:304.35px" width="6" height="6" viewBox="0 0 6 6"><path d="M3 0.3 V4.8 M0.8 2.7 L3 4.9 L5.2 2.7" stroke="#e5535f" stroke-width="1.05" fill="none"/></svg>
<div style="position:absolute;left:433.9px;top:300.95000000000005px;width:51.8px;height:12.6px;background:#fbe7e9"></div>
<div class="t" style="left:437.70px;transform-origin:0 0;transform:scaleX(0.9857);top:302.00px;font-size:8.0px;color:#e5535f;font-weight:normal;">0.6453</div>
<svg style="position:absolute;left:476.00px;top:304.35px" width="6" height="6" viewBox="0 0 6 6"><path d="M3 0.3 V4.8 M0.8 2.7 L3 4.9 L5.2 2.7" stroke="#e5535f" stroke-width="1.05" fill="none"/></svg>
<div class="t" style="left:545.09px;transform-origin:0 0;transform:scaleX(0.9091);top:302.00px;font-size:7.8px;color:#e5535f;font-weight:normal;">-0.11%</div>
<div class="t" style="right:357.96px;transform-origin:100% 0;transform:scaleX(0.9391);top:302.00px;font-size:8.2px;color:#505257;font-weight:normal;">0.6463</div>
<div class="t" style="right:278.56px;transform-origin:100% 0;transform:scaleX(0.9391);top:302.00px;font-size:8.2px;color:#505257;font-weight:normal;">0.6431</div>
<div class="t" style="left:776.00px;transform-origin:0 0;transform:scaleX(0.8571);top:302.00px;font-size:8.0px;color:#4896f2;font-weight:normal;">Trade</div>
<div style="position:absolute;left:187.4px;top:319.04999999999995px;width:627px;height:1.7px;background:#f2f3f5"></div>
<svg style="position:absolute;left:195.8px;top:329.20px" width="6.2" height="6.2" viewBox="0 0 6.2 6.2"><path d="M3.1 0.5 L3.85 2.25 L5.7 2.4 L4.3 3.6 L4.75 5.45 L3.1 4.45 L1.45 5.45 L1.9 3.6 L0.5 2.4 L2.35 2.25 Z" stroke="#45464a" stroke-width="0.75" fill="none" stroke-linejoin="round"/></svg>
<svg style="position:absolute;left:206.0px;top:325.8px" width="13.0" height="13.0" viewBox="-6.5 -6.5 13.0 13.0"><clipPath id="fl4"><circle r="6.5"/></clipPath><g clip-path="url(#fl4)"><rect x="-8" y="-8" width="16" height="16" fill="#fff"/><rect x="-8" y="-6.60" width="16" height="1.2" fill="#dc2540"/><rect x="-8" y="-4.45" width="16" height="1.2" fill="#dc2540"/><rect x="-8" y="-2.30" width="16" height="1.2" fill="#dc2540"/><rect x="-8" y="-0.15" width="16" height="1.2" fill="#dc2540"/><rect x="-8" y="2.00" width="16" height="1.2" fill="#dc2540"/><rect x="-8" y="4.15" width="16" height="1.2" fill="#dc2540"/><rect x="-8" y="6.30" width="16" height="1.2" fill="#dc2540"/><rect x="-8" y="-8" width="8" height="6.2" fill="#3c5fb4"/></g></svg>
<div class="t" style="left:223.00px;transform-origin:0 0;transform:scaleX(0.9200);top:326.00px;font-size:8.4px;color:#505155;font-weight:normal;">USD<span style="font-size:7.1px;color:#b5b7bc">/CAD</span></div>
<div style="position:absolute;left:352.9px;top:325.90000000000003px;width:51.8px;height:12.6px;background:#e3f4ea"></div>
<div class="t" style="left:355.71px;transform-origin:0 0;transform:scaleX(0.9857);top:327.00px;font-size:8.0px;color:#4fae78;font-weight:normal;">1.3502</div>
<svg style="position:absolute;left:395.00px;top:329.30px" width="6" height="6" viewBox="0 0 6 6"><path d="M3 5.7 V1.2 M0.8 3.3 L3 1.1 L5.2 3.3" stroke="#4fae78" stroke-width="1.05" fill="none"/></svg>
<div style="position:absolute;left:433.9px;top:325.90000000000003px;width:51.8px;height:12.6px;background:#e3f4ea"></div>
<div class="t" style="left:436.71px;transform-origin:0 0;transform:scaleX(0.9857);top:327.00px;font-size:8.0px;color:#4fae78;font-weight:normal;">1.3505</div>
<svg style="position:absolute;left:476.00px;top:329.30px" width="6" height="6" viewBox="0 0 6 6"><path d="M3 5.7 V1.2 M0.8 3.3 L3 1.1 L5.2 3.3" stroke="#4fae78" stroke-width="1.05" fill="none"/></svg>
<div class="t" style="left:542.82px;transform-origin:0 0;transform:scaleX(0.9091);top:327.00px;font-size:7.8px;color:#4fae78;font-weight:normal;">0.07%%</div>
<div class="t" style="right:357.96px;transform-origin:100% 0;transform:scaleX(0.9391);top:327.00px;font-size:8.2px;color:#505257;font-weight:normal;">1.3508</div>
<div class="t" style="right:278.56px;transform-origin:100% 0;transform:scaleX(0.9391);top:327.00px;font-size:8.2px;color:#505257;font-weight:normal;">1.3488</div>
<div class="t" style="left:776.00px;transform-origin:0 0;transform:scaleX(0.8571);top:327.00px;font-size:8.0px;color:#4896f2;font-weight:normal;">Trade</div>
<div style="position:absolute;left:187.4px;top:344.0px;width:627px;height:1.7px;background:#f2f3f5"></div>
<svg style="position:absolute;left:195.8px;top:354.15px" width="6.2" height="6.2" viewBox="0 0 6.2 6.2"><path d="M3.1 0.5 L3.85 2.25 L5.7 2.4 L4.3 3.6 L4.75 5.45 L3.1 4.45 L1.45 5.45 L1.9 3.6 L0.5 2.4 L2.35 2.25 Z" stroke="#45464a" stroke-width="0.75" fill="none" stroke-linejoin="round"/></svg>
<svg style="position:absolute;left:206.0px;top:350.75px" width="13.0" height="13.0" viewBox="-6.5 -6.5 13.0 13.0"><clipPath id="fl5"><circle r="6.5"/></clipPath><g clip-path="url(#fl5)"><rect x="-8" y="-8" width="16" height="16" fill="#0b4aa8"/><circle cx="3.64" cy="0.00" r="0.55" fill="#e0c43c"/><circle cx="3.15" cy="1.82" r="0.55" fill="#e0c43c"/><circle cx="1.82" cy="3.15" r="0.55" fill="#e0c43c"/><circle cx="0.00" cy="3.64" r="0.55" fill="#e0c43c"/><circle cx="-1.82" cy="3.15" r="0.55" fill="#e0c43c"/><circle cx="-3.15" cy="1.82" r="0.55" fill="#e0c43c"/><circle cx="-3.64" cy="0.00" r="0.55" fill="#e0c43c"/><circle cx="-3.15" cy="-1.82" r="0.55" fill="#e0c43c"/><circle cx="-1.82" cy="-3.15" r="0.55" fill="#e0c43c"/><circle cx="-0.00" cy="-3.64" r="0.55" fill="#e0c43c"/><circle cx="1.82" cy="-3.15" r="0.55" fill="#e0c43c"/><circle cx="3.15" cy="-1.82" r="0.55" fill="#e0c43c"/></g></svg>
<div class="t" style="left:223.00px;transform-origin:0 0;transform:scaleX(0.9200);top:351.00px;font-size:8.4px;color:#505155;font-weight:normal;">EUR<span style="font-size:7.1px;color:#b5b7bc">/JPY</span></div>
<div style="position:absolute;left:352.9px;top:350.85px;width:51.8px;height:12.6px;background:#fbe7e9"></div>
<div class="t" style="left:355.71px;transform-origin:0 0;transform:scaleX(0.9857);top:352.00px;font-size:8.0px;color:#e5535f;font-weight:normal;">158.7</div>
<svg style="position:absolute;left:395.00px;top:354.25px" width="6" height="6" viewBox="0 0 6 6"><path d="M3 0.3 V4.8 M0.8 2.7 L3 4.9 L5.2 2.7" stroke="#e5535f" stroke-width="1.05" fill="none"/></svg>
<div style="position:absolute;left:433.9px;top:350.85px;width:51.8px;height:12.6px;background:#fbe7e9"></div>
<div class="t" style="left:436.71px;transform-origin:0 0;transform:scaleX(0.9857);top:352.00px;font-size:8.0px;color:#e5535f;font-weight:normal;">158.73</div>
<svg style="position:absolute;left:476.00px;top:354.25px" width="6" height="6" viewBox="0 0 6 6"><path d="M3 0.3 V4.8 M0.8 2.7 L3 4.9 L5.2 2.7" stroke="#e5535f" stroke-width="1.05" fill="none"/></svg>
<div class="t" style="left:544.64px;transform-origin:0 0;transform:scaleX(0.9091);top:352.00px;font-size:7.8px;color:#e5535f;font-weight:normal;">-0.01%</div>
<div class="t" style="right:357.96px;transform-origin:100% 0;transform:scaleX(0.9391);top:352.00px;font-size:8.2px;color:#505257;font-weight:normal;">158.83</div>
<div class="t" style="right:278.56px;transform-origin:100% 0;transform:scaleX(0.9391);top:352.00px;font-size:8.2px;color:#505257;font-weight:normal;">158.58</div>
<div class="t" style="left:776.00px;transform-origin:0 0;transform:scaleX(0.8571);top:352.00px;font-size:8.0px;color:#4896f2;font-weight:normal;">Trade</div>
<div style="position:absolute;left:187.4px;top:368.95px;width:627px;height:1.7px;background:#f2f3f5"></div>
<svg style="position:absolute;left:195.8px;top:379.10px" width="6.2" height="6.2" viewBox="0 0 6.2 6.2"><path d="M3.1 0.5 L3.85 2.25 L5.7 2.4 L4.3 3.6 L4.75 5.45 L3.1 4.45 L1.45 5.45 L1.9 3.6 L0.5 2.4 L2.35 2.25 Z" stroke="#45464a" stroke-width="0.75" fill="none" stroke-linejoin="round"/></svg>
<svg style="position:absolute;left:206.0px;top:375.7px" width="13.0" height="13.0" viewBox="-6.5 -6.5 13.0 13.0"><clipPath id="fl6"><circle r="6.5"/></clipPath><g clip-path="url(#fl6)"><rect x="-8" y="-8" width="16" height="16" fill="#fff"/><rect x="-8" y="-6.60" width="16" height="1.2" fill="#dc2540"/><rect x="-8" y="-4.45" width="16" height="1.2" fill="#dc2540"/><rect x="-8" y="-2.30" width="16" height="1.2" fill="#dc2540"/><rect x="-8" y="-0.15" width="16" height="1.2" fill="#dc2540"/><rect x="-8" y="2.00" width="16" height="1.2" fill="#dc2540"/><rect x="-8" y="4.15" width="16" height="1.2" fill="#dc2540"/><rect x="-8" y="6.30" width="16" height="1.2" fill="#dc2540"/><rect x="-8" y="-8" width="8" height="6.2" fill="#3c5fb4"/></g></svg>
<div class="t" style="left:223.00px;transform-origin:0 0;transform:scaleX(0.9200);top:376.00px;font-size:8.4px;color:#505155;font-weight:normal;">USD<span style="font-size:7.1px;color:#b5b7bc">/CHF</span></div>
<div style="position:absolute;left:352.9px;top:375.8px;width:51.8px;height:12.6px;background:#e3f4ea"></div>
<div class="t" style="left:356.70px;transform-origin:0 0;transform:scaleX(0.9857);top:377.00px;font-size:8.0px;color:#4fae78;font-weight:normal;">0.8781</div>
<svg style="position:absolute;left:395.00px;top:379.20px" width="6" height="6" viewBox="0 0 6 6"><path d="M3 5.7 V1.2 M0.8 3.3 L3 1.1 L5.2 3.3" stroke="#4fae78" stroke-width="1.05" fill="none"/></svg>
<div style="position:absolute;left:433.9px;top:375.8px;width:51.8px;height:12.6px;background:#e3f4ea"></div>
<div class="t" style="left:437.70px;transform-origin:0 0;transform:scaleX(0.9857);top:377.00px;font-size:8.0px;color:#4fae78;font-weight:normal;">0.8784</div>
<svg style="position:absolute;left:476.00px;top:379.20px" width="6" height="6" viewBox="0 0 6 6"><path d="M3 5.7 V1.2 M0.8 3.3 L3 1.1 L5.2 3.3" stroke="#4fae78" stroke-width="1.05" fill="none"/></svg>
<div class="t" style="left:542.82px;transform-origin:0 0;transform:scaleX(0.9091);top:377.00px;font-size:7.8px;color:#4fae78;font-weight:normal;">0.02%%</div>
<div class="t" style="right:358.47px;transform-origin:100% 0;transform:scaleX(0.9391);top:377.00px;font-size:8.2px;color:#505257;font-weight:normal;">0.879</div>
<div class="t" style="right:278.56px;transform-origin:100% 0;transform:scaleX(0.9391);top:377.00px;font-size:8.2px;color:#505257;font-weight:normal;">0.8777</div>
<div class="t" style="left:776.00px;transform-origin:0 0;transform:scaleX(0.8571);top:377.00px;font-size:8.0px;color:#4896f2;font-weight:normal;">Trade</div>
<div style="position:absolute;left:187.4px;top:393.9px;width:627px;height:1.7px;background:#f2f3f5"></div>
<svg style="position:absolute;left:195.8px;top:404.05px" width="6.2" height="6.2" viewBox="0 0 6.2 6.2"><path d="M3.1 0.5 L3.85 2.25 L5.7 2.4 L4.3 3.6 L4.75 5.45 L3.1 4.45 L1.45 5.45 L1.9 3.6 L0.5 2.4 L2.35 2.25 Z" stroke="#45464a" stroke-width="0.75" fill="none" stroke-linejoin="round"/></svg>
<svg style="position:absolute;left:206.0px;top:400.65px" width="13.0" height="13.0" viewBox="-6.5 -6.5 13.0 13.0"><clipPath id="fl7"><circle r="6.5"/></clipPath><g clip-path="url(#fl7)"><rect x="-8" y="-8" width="16" height="16" fill="#0e2f82"/><path d="M-8 -8 L0 -1.8 M0 -8 L-8 -1.8" stroke="#fff" stroke-width="1.2"/><path d="M-3.6 -8 V-1.8 M-8 -4.8 H0" stroke="#fff" stroke-width="1.6"/><path d="M-3.6 -8 V-1.8 M-8 -4.8 H0" stroke="#d8203a" stroke-width="0.9"/><circle cx="2.9" cy="-2.2" r="0.6" fill="#d8203a"/><circle cx="4.4" cy="0.8" r="0.6" fill="#d8203a"/><circle cx="2.7" cy="3.6" r="0.6" fill="#d8203a"/></g></svg>
<div class="t" style="left:223.00px;transform-origin:0 0;transform:scaleX(0.9200);top:401.00px;font-size:8.4px;color:#505155;font-weight:normal;">NZD<span style="font-size:7.1px;color:#b5b7bc">/USD</span></div>
<div style="position:absolute;left:352.9px;top:400.75px;width:51.8px;height:12.6px;background:#e3f4ea"></div>
<div class="t" style="left:356.70px;transform-origin:0 0;transform:scaleX(0.9857);top:402.00px;font-size:8.0px;color:#4fae78;font-weight:normal;">0.5958</div>
<svg style="position:absolute;left:395.00px;top:404.15px" width="6" height="6" viewBox="0 0 6 6"><path d="M3 5.7 V1.2 M0.8 3.3 L3 1.1 L5.2 3.3" stroke="#4fae78" stroke-width="1.05" fill="none"/></svg>
<div style="position:absolute;left:433.9px;top:400.75px;width:51.8px;height:12.6px;background:#e3f4ea"></div>
<div class="t" style="left:437.70px;transform-origin:0 0;transform:scaleX(0.9857);top:402.00px;font-size:8.0px;color:#4fae78;font-weight:normal;">0.5961</div>
<svg style="position:absolute;left:476.00px;top:404.15px" width="6" height="6" viewBox="0 0 6 6"><path d="M3 5.7 V1.2 M0.8 3.3 L3 1.1 L5.2 3.3" stroke="#4fae78" stroke-width="1.05" fill="none"/></svg>
<div class="t" style="left:542.82px;transform-origin:0 0;transform:scaleX(0.9091);top:402.00px;font-size:7.8px;color:#4fae78;font-weight:normal;">0.25%%</div>
<div class="t" style="right:357.96px;transform-origin:100% 0;transform:scaleX(0.9391);top:402.00px;font-size:8.2px;color:#505257;font-weight:normal;">0.5968</div>
<div class="t" style="right:278.56px;transform-origin:100% 0;transform:scaleX(0.9391);top:402.00px;font-size:8.2px;color:#505257;font-weight:normal;">0.5926</div>
<div class="t" style="left:776.00px;transform-origin:0 0;transform:scaleX(0.8571);top:402.00px;font-size:8.0px;color:#4896f2;font-weight:normal;">Trade</div>
<div style="position:absolute;left:187.4px;top:418.85px;width:627px;height:1.7px;background:#f2f3f5"></div>
<svg style="position:absolute;left:195.8px;top:429.00px" width="6.2" height="6.2" viewBox="0 0 6.2 6.2"><path d="M3.1 0.5 L3.85 2.25 L5.7 2.4 L4.3 3.6 L4.75 5.45 L3.1 4.45 L1.45 5.45 L1.9 3.6 L0.5 2.4 L2.35 2.25 Z" stroke="#45464a" stroke-width="0.75" fill="none" stroke-linejoin="round"/></svg>
<svg style="position:absolute;left:206.0px;top:425.6px" width="13.0" height="13.0" viewBox="-6.5 -6.5 13.0 13.0"><clipPath id="fl8"><circle r="6.5"/></clipPath><g clip-path="url(#fl8)"><rect x="-8" y="-8" width="16" height="16" fill="#0b4aa8"/><circle cx="3.64" cy="0.00" r="0.55" fill="#e0c43c"/><circle cx="3.15" cy="1.82" r="0.55" fill="#e0c43c"/><circle cx="1.82" cy="3.15" r="0.55" fill="#e0c43c"/><circle cx="0.00" cy="3.64" r="0.55" fill="#e0c43c"/><circle cx="-1.82" cy="3.15" r="0.55" fill="#e0c43c"/><circle cx="-3.15" cy="1.82" r="0.55" fill="#e0c43c"/><circle cx="-3.64" cy="0.00" r="0.55" fill="#e0c43c"/><circle cx="-3.15" cy="-1.82" r="0.55" fill="#e0c43c"/><circle cx="-1.82" cy="-3.15" r="0.55" fill="#e0c43c"/><circle cx="-0.00" cy="-3.64" r="0.55" fill="#e0c43c"/><circle cx="1.82" cy="-3.15" r="0.55" fill="#e0c43c"/><circle cx="3.15" cy="-1.82" r="0.55" fill="#e0c43c"/></g></svg>
<div class="t" style="left:223.00px;transform-origin:0 0;transform:scaleX(0.9200);top:426.00px;font-size:8.4px;color:#505155;font-weight:normal;">EUR<span style="font-size:7.1px;color:#b5b7bc">/GBP</span></div>
<div style="position:absolute;left:352.9px;top:425.70000000000005px;width:51.8px;height:12.6px;background:#e3f4ea"></div>
<div class="t" style="left:356.70px;transform-origin:0 0;transform:scaleX(0.9857);top:427.00px;font-size:8.0px;color:#4fae78;font-weight:normal;">0.8591</div>
<svg style="position:absolute;left:395.00px;top:429.10px" width="6" height="6" viewBox="0 0 6 6"><path d="M3 5.7 V1.2 M0.8 3.3 L3 1.1 L5.2 3.3" stroke="#4fae78" stroke-width="1.05" fill="none"/></svg>
<div style="position:absolute;left:433.9px;top:425.70000000000005px;width:51.8px;height:12.6px;background:#e3f4ea"></div>
<div class="t" style="left:437.70px;transform-origin:0 0;transform:scaleX(0.9857);top:427.00px;font-size:8.0px;color:#4fae78;font-weight:normal;">0.8594</div>
<svg style="position:absolute;left:476.00px;top:429.10px" width="6" height="6" viewBox="0 0 6 6"><path d="M3 5.7 V1.2 M0.8 3.3 L3 1.1 L5.2 3.3" stroke="#4fae78" stroke-width="1.05" fill="none"/></svg>
<div class="t" style="left:542.82px;transform-origin:0 0;transform:scaleX(0.9091);top:427.00px;font-size:7.8px;color:#4fae78;font-weight:normal;">0.12%%</div>
<div class="t" style="right:357.96px;transform-origin:100% 0;transform:scaleX(0.9391);top:427.00px;font-size:8.2px;color:#505257;font-weight:normal;">0.8591</div>
<div class="t" style="right:279.07px;transform-origin:100% 0;transform:scaleX(0.9391);top:427.00px;font-size:8.2px;color:#505257;font-weight:normal;">0.858</div>
<div class="t" style="left:776.00px;transform-origin:0 0;transform:scaleX(0.8571);top:427.00px;font-size:8.0px;color:#4896f2;font-weight:normal;">Trade</div>
<div style="position:absolute;left:187.4px;top:443.79999999999995px;width:627px;height:1.7px;background:#f2f3f5"></div>
<svg style="position:absolute;left:195.8px;top:453.95px" width="6.2" height="6.2" viewBox="0 0 6.2 6.2"><path d="M3.1 0.5 L3.85 2.25 L5.7 2.4 L4.3 3.6 L4.75 5.45 L3.1 4.45 L1.45 5.45 L1.9 3.6 L0.5 2.4 L2.35 2.25 Z" stroke="#45464a" stroke-width="0.75" fill="none" stroke-linejoin="round"/></svg>
<svg style="position:absolute;left:206.0px;top:450.54999999999995px" width="13.0" height="13.0" viewBox="-6.5 -6.5 13.0 13.0"><clipPath id="fl9"><circle r="6.5"/></clipPath><g clip-path="url(#fl9)"><rect x="-8" y="-8" width="16" height="16" fill="#2a5cc0"/><path d="M-8 -8 L8 8 M8 -8 L-8 8" stroke="#fff" stroke-width="2.4"/><path d="M-8 -8 L8 8 M8 -8 L-8 8" stroke="#d51f3a" stroke-width="0.8"/><path d="M0 -8 V8 M-8 0 H8" stroke="#fff" stroke-width="3.2"/><path d="M0 -8 V8 M-8 0 H8" stroke="#e0203c" stroke-width="1.9"/></g></svg>
<div class="t" style="left:223.00px;transform-origin:0 0;transform:scaleX(0.9200);top:451.00px;font-size:8.4px;color:#505155;font-weight:normal;">GBP<span style="font-size:7.1px;color:#b5b7bc">/NZD</span></div>
<div style="position:absolute;left:352.9px;top:450.65px;width:51.8px;height:12.6px;background:#fbe7e9"></div>
<div class="t" style="left:356.70px;transform-origin:0 0;transform:scaleX(0.9857);top:452.00px;font-size:8.0px;color:#e5535f;font-weight:normal;">2.129</div>
<svg style="position:absolute;left:395.00px;top:454.05px" width="6" height="6" viewBox="0 0 6 6"><path d="M3 0.3 V4.8 M0.8 2.7 L3 4.9 L5.2 2.7" stroke="#e5535f" stroke-width="1.05" fill="none"/></svg>
<div style="position:absolute;left:433.9px;top:450.65px;width:51.8px;height:12.6px;background:#fbe7e9"></div>
<div class="t" style="left:437.70px;transform-origin:0 0;transform:scaleX(0.9857);top:452.00px;font-size:8.0px;color:#e5535f;font-weight:normal;">2.1302</div>
<svg style="position:absolute;left:476.00px;top:454.05px" width="6" height="6" viewBox="0 0 6 6"><path d="M3 0.3 V4.8 M0.8 2.7 L3 4.9 L5.2 2.7" stroke="#e5535f" stroke-width="1.05" fill="none"/></svg>
<div class="t" style="left:544.64px;transform-origin:0 0;transform:scaleX(0.9091);top:452.00px;font-size:7.8px;color:#e5535f;font-weight:normal;">-0.18%</div>
<div class="t" style="right:357.96px;transform-origin:100% 0;transform:scaleX(0.9391);top:452.00px;font-size:8.2px;color:#505257;font-weight:normal;">2.1387</div>
<div class="t" style="right:278.56px;transform-origin:100% 0;transform:scaleX(0.9391);top:452.00px;font-size:8.2px;color:#505257;font-weight:normal;">2.1269</div>
<div class="t" style="left:776.00px;transform-origin:0 0;transform:scaleX(0.8571);top:452.00px;font-size:8.0px;color:#4896f2;font-weight:normal;">Trade</div>
<div style="position:absolute;left:187.4px;top:468.75px;width:627px;height:1.7px;background:#f2f3f5"></div>
<svg style="position:absolute;left:195.8px;top:478.90px" width="6.2" height="6.2" viewBox="0 0 6.2 6.2"><path d="M3.1 0.5 L3.85 2.25 L5.7 2.4 L4.3 3.6 L4.75 5.45 L3.1 4.45 L1.45 5.45 L1.9 3.6 L0.5 2.4 L2.35 2.25 Z" stroke="#45464a" stroke-width="0.75" fill="none" stroke-linejoin="round"/></svg>
<svg style="position:absolute;left:206.0px;top:475.5px" width="13.0" height="13.0" viewBox="-6.5 -6.5 13.0 13.0"><clipPath id="fl10"><circle r="6.5"/></clipPath><g clip-path="url(#fl10)"><rect x="-8" y="-8" width="16" height="16" fill="#2a5cc0"/><path d="M-8 -8 L8 8 M8 -8 L-8 8" stroke="#fff" stroke-width="2.4"/><path d="M-8 -8 L8 8 M8 -8 L-8 8" stroke="#d51f3a" stroke-width="0.8"/><path d="M0 -8 V8 M-8 0 H8" stroke="#fff" stroke-width="3.2"/><path d="M0 -8 V8 M-8 0 H8" stroke="#e0203c" stroke-width="1.9"/></g></svg>
<div class="t" style="left:223.00px;transform-origin:0 0;transform:scaleX(0.9200);top:476.00px;font-size:8.4px;color:#505155;font-weight:normal;">GBP<span style="font-size:7.1px;color:#b5b7bc">/JPY</span></div>
<div style="position:absolute;left:352.9px;top:475.6px;width:51.8px;height:12.6px;background:#fbe7e9"></div>
<div class="t" style="left:355.71px;transform-origin:0 0;transform:scaleX(0.9857);top:476.00px;font-size:8.0px;color:#e5535f;font-weight:normal;">184.73</div>
<svg style="position:absolute;left:395.00px;top:479.00px" width="6" height="6" viewBox="0 0 6 6"><path d="M3 0.3 V4.8 M0.8 2.7 L3 4.9 L5.2 2.7" stroke="#e5535f" stroke-width="1.05" fill="none"/></svg>
<div style="position:absolute;left:433.9px;top:475.6px;width:51.8px;height:12.6px;background:#fbe7e9"></div>
<div class="t" style="left:436.71px;transform-origin:0 0;transform:scaleX(0.9857);top:476.00px;font-size:8.0px;color:#e5535f;font-weight:normal;">184.8</div>
<svg style="position:absolute;left:476.00px;top:479.00px" width="6" height="6" viewBox="0 0 6 6"><path d="M3 0.3 V4.8 M0.8 2.7 L3 4.9 L5.2 2.7" stroke="#e5535f" stroke-width="1.05" fill="none"/></svg>
<div class="t" style="left:545.09px;transform-origin:0 0;transform:scaleX(0.9091);top:477.00px;font-size:7.8px;color:#e5535f;font-weight:normal;">-0.11%</div>
<div class="t" style="right:357.96px;transform-origin:100% 0;transform:scaleX(0.9391);top:477.00px;font-size:8.2px;color:#505257;font-weight:normal;">184.95</div>
<div class="t" style="right:278.56px;transform-origin:100% 0;transform:scaleX(0.9391);top:477.00px;font-size:8.2px;color:#505257;font-weight:normal;">184.68</div>
<div class="t" style="left:776.00px;transform-origin:0 0;transform:scaleX(0.8571);top:477.00px;font-size:8.0px;color:#4896f2;font-weight:normal;">Trade</div>
<div style="position:absolute;left:187.4px;top:493.7px;width:627px;height:1.7px;background:#f2f3f5"></div>
<svg style="position:absolute;left:195.8px;top:503.85px" width="6.2" height="6.2" viewBox="0 0 6.2 6.2"><path d="M3.1 0.5 L3.85 2.25 L5.7 2.4 L4.3 3.6 L4.75 5.45 L3.1 4.45 L1.45 5.45 L1.9 3.6 L0.5 2.4 L2.35 2.25 Z" stroke="#45464a" stroke-width="0.75" fill="none" stroke-linejoin="round"/></svg>
<svg style="position:absolute;left:206.0px;top:500.45px" width="13.0" height="13.0" viewBox="-6.5 -6.5 13.0 13.0"><clipPath id="fl11"><circle r="6.5"/></clipPath><g clip-path="url(#fl11)"><rect x="-8" y="-8" width="16" height="16" fill="#0b4aa8"/><circle cx="3.64" cy="0.00" r="0.55" fill="#e0c43c"/><circle cx="3.15" cy="1.82" r="0.55" fill="#e0c43c"/><circle cx="1.82" cy="3.15" r="0.55" fill="#e0c43c"/><circle cx="0.00" cy="3.64" r="0.55" fill="#e0c43c"/><circle cx="-1.82" cy="3.15" r="0.55" fill="#e0c43c"/><circle cx="-3.15" cy="1.82" r="0.55" fill="#e0c43c"/><circle cx="-3.64" cy="0.00" r="0.55" fill="#e0c43c"/><circle cx="-3.15" cy="-1.82" r="0.55" fill="#e0c43c"/><circle cx="-1.82" cy="-3.15" r="0.55" fill="#e0c43c"/><circle cx="-0.00" cy="-3.64" r="0.55" fill="#e0c43c"/><circle cx="1.82" cy="-3.15" r="0.55" fill="#e0c43c"/><circle cx="3.15" cy="-1.82" r="0.55" fill="#e0c43c"/></g></svg>
<div class="t" style="left:223.00px;transform-origin:0 0;transform:scaleX(0.9200);top:501.00px;font-size:8.4px;color:#505155;font-weight:normal;">EUR<span style="font-size:7.1px;color:#b5b7bc">/CHF</span></div>
<div style="position:absolute;left:352.9px;top:500.55px;width:51.8px;height:12.6px;background:#e3f4ea"></div>
<div class="t" style="left:356.70px;transform-origin:0 0;transform:scaleX(0.9857);top:501.00px;font-size:8.0px;color:#4fae78;font-weight:normal;">0.9583</div>
<svg style="position:absolute;left:395.00px;top:503.95px" width="6" height="6" viewBox="0 0 6 6"><path d="M3 5.7 V1.2 M0.8 3.3 L3 1.1 L5.2 3.3" stroke="#4fae78" stroke-width="1.05" fill="none"/></svg>
<div style="position:absolute;left:433.9px;top:500.55px;width:51.8px;height:12.6px;background:#e3f4ea"></div>
<div class="t" style="left:437.70px;transform-origin:0 0;transform:scaleX(0.9857);top:501.00px;font-size:8.0px;color:#4fae78;font-weight:normal;">0.9586</div>
<svg style="position:absolute;left:476.00px;top:503.95px" width="6" height="6" viewBox="0 0 6 6"><path d="M3 5.7 V1.2 M0.8 3.3 L3 1.1 L5.2 3.3" stroke="#4fae78" stroke-width="1.05" fill="none"/></svg>
<div class="t" style="left:542.82px;transform-origin:0 0;transform:scaleX(0.9091);top:502.00px;font-size:7.8px;color:#4fae78;font-weight:normal;">0.08%%</div>
<div class="t" style="right:357.96px;transform-origin:100% 0;transform:scaleX(0.9391);top:502.00px;font-size:8.2px;color:#505257;font-weight:normal;">0.9583</div>
<div class="t" style="right:278.56px;transform-origin:100% 0;transform:scaleX(0.9391);top:502.00px;font-size:8.2px;color:#505257;font-weight:normal;">0.9572</div>
<div class="t" style="left:776.00px;transform-origin:0 0;transform:scaleX(0.8571);top:502.00px;font-size:8.0px;color:#4896f2;font-weight:normal;">Trade</div>
<div style="position:absolute;left:187.4px;top:518.65px;width:627px;height:1.7px;background:#f2f3f5"></div>
<svg style="position:absolute;left:649.5px;top:531.5px" width="7" height="9" viewBox="0 0 7 9"><path d="M5.5 0.6 L1.4 4.5 L5.5 8.4" stroke="#6b6d72" stroke-width="0.8" fill="none"/></svg>
<div style="position:absolute;left:661.6px;top:529.4px;width:12.2px;height:12.5px;background:#2d8cf0;border-radius:1.5px"></div>
<div class="t" style="left:665.80px;transform-origin:0 0;transform:scaleX(0.9500);top:531.00px;font-size:8.0px;color:#fff;font-weight:normal;-webkit-text-stroke:0.18px currentColor;">1</div>
<div class="t" style="left:679.90px;transform-origin:0 0;transform:scaleX(0.9500);top:531.00px;font-size:8.0px;color:#5a5c61;font-weight:normal;">2</div>
<div class="t" style="left:695.30px;transform-origin:0 0;transform:scaleX(0.9500);top:531.00px;font-size:8.0px;color:#5a5c61;font-weight:normal;">3</div>
<div class="t" style="left:711.00px;transform-origin:0 0;transform:scaleX(0.9500);top:531.00px;font-size:8.0px;color:#5a5c61;font-weight:normal;">4</div>
<div class="t" style="left:726.70px;transform-origin:0 0;transform:scaleX(0.9500);top:531.00px;font-size:8.0px;color:#5a5c61;font-weight:normal;">5</div>
<div class="t" style="left:742.10px;transform-origin:0 0;transform:scaleX(0.9500);top:531.00px;font-size:8.0px;color:#5a5c61;font-weight:normal;">6</div>
<div class="t" style="left:757.80px;transform-origin:0 0;transform:scaleX(0.9500);top:531.00px;font-size:8.0px;color:#5a5c61;font-weight:normal;">7</div>
<div class="t" style="left:773.40px;transform-origin:0 0;transform:scaleX(0.9500);top:531.00px;font-size:8.0px;color:#5a5c61;font-weight:normal;">8</div>
<div class="t" style="left:789.30px;transform-origin:0 0;transform:scaleX(0.9500);top:531.00px;font-size:8.0px;color:#5a5c61;font-weight:normal;">9</div>
<svg style="position:absolute;left:804px;top:531.5px" width="7" height="9" viewBox="0 0 7 9"><path d="M1.3 0.6 L5.4 4.5 L1.3 8.4" stroke="#6b6d72" stroke-width="0.8" fill="none"/></svg>
<div style="position:absolute;left:0px;top:550px;width:1000px;height:17px;background:#f9f9f9"></div>
<svg style="position:absolute;left:7.8px;top:555.4px" width="7" height="5.6" viewBox="0 0 7 5.6"><path d="M0.1 1.4 Q3.5 -1.1 6.9 1.4 L3.5 5.5 Z" fill="#7a7b80"/></svg>
<div class="t" style="left:18.90px;transform-origin:0 0;transform:scaleX(0.8690);top:554.00px;font-size:7.0px;color:#3c3d41;font-weight:normal;-webkit-text-stroke:0.12px currentColor;">Server: InstaForex</div>
<div class="t" style="left:78.80px;transform-origin:0 0;transform:scaleX(0.8905);top:554.00px;font-size:7.0px;color:#3c3d41;font-weight:normal;-webkit-text-stroke:0.12px currentColor;">Connection Status: Connected</div>
<div style="position:absolute;left:835.2px;top:557.7px;width:2.5px;height:2.5px;background:#3db36b;border-radius:50%"></div>
<div class="t" style="left:839.80px;transform-origin:0 0;transform:scaleX(0.8898);top:554.00px;font-size:7.0px;color:#3c3d41;font-weight:normal;-webkit-text-stroke:0.12px currentColor;">Market: London</div>
<svg style="position:absolute;left:892px;top:554.8px" width="7.5" height="7.5" viewBox="0 0 7.5 7.5"><circle cx="3.75" cy="3.75" r="3.1" stroke="#55565a" stroke-width="0.8" fill="none"/><path d="M3.75 1.9 V3.9 L5 4.8" stroke="#55565a" stroke-width="0.7" fill="none"/></svg>
<div class="t" style="left:902.40px;transform-origin:0 0;transform:scaleX(0.9371);top:554.00px;font-size:7.0px;color:#3c3d41;font-weight:normal;-webkit-text-stroke:0.12px currentColor;">16/08/2023</div>
<div class="t" style="left:945.10px;transform-origin:0 0;transform:scaleX(0.8755);top:554.00px;font-size:7.0px;color:#3c3d41;font-weight:normal;-webkit-text-stroke:0.12px currentColor;">08:21:53 GMT+3</div>
</body></html>
